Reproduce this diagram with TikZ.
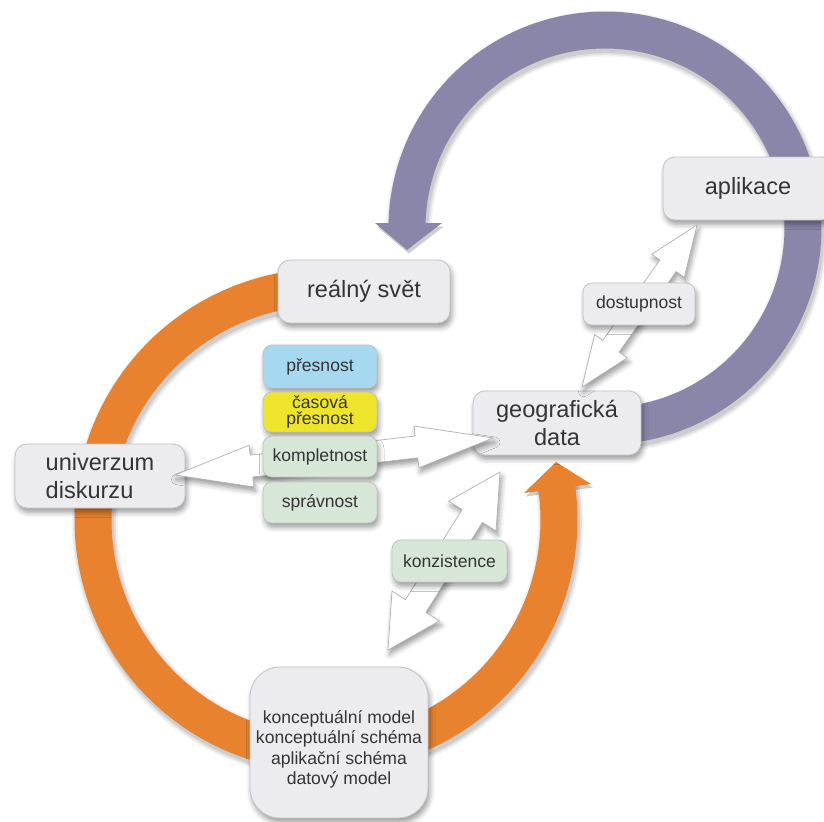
\documentclass[tikz,border=0pt]{standalone}
\usepackage{fontspec}
\setmainfont{Liberation Sans}
\usetikzlibrary{calc,shadows.blur}

\definecolor{ringorange}{RGB}{232,130,46}
\definecolor{ringpurple}{RGB}{138,134,170}
\definecolor{boxgrey}{RGB}{236,236,239}
\definecolor{boxedge}{RGB}{196,196,202}
\definecolor{qblue}{RGB}{166,216,240}
\definecolor{qyellow}{RGB}{238,228,44}
\definecolor{qgreen}{RGB}{214,230,215}
\definecolor{txt}{RGB}{52,52,52}

\tikzset{
  softshadow/.style={blur shadow={shadow xshift=1pt, shadow yshift=-2.5pt,
      shadow blur radius=3pt, shadow opacity=40}},
  wd/.style={minimum width=#1*0.02cm},
  ht/.style={minimum height=#1*0.02cm},
  panel/.style={draw=boxedge, line width=0.5pt, fill=boxgrey,
      rounded corners=0.24cm, inner sep=0pt, text=txt, softshadow},
  bigtext/.style={font=\fontsize{13.4}{15.5}\selectfont},
  smalltext/.style={font=\fontsize{10}{10}\selectfont},
  tag/.style={panel, rounded corners=0.18cm, smalltext},
  ring/.style={line width=0.74cm},
  ringshadow/.style={black, opacity=#1},
  blockarrow/.style={fill=white, draw=black!30, line width=0.4pt, softshadow},
}

% double-headed block arrow between two named points:
% #1 from, #2 to, #3 head length, #4 head half width, #5 shaft half width (px)
\newcommand\dblarrow[5]{%
  \coordinate (ba1) at ($(#1)!#3*0.02cm!(#2)$);
  \coordinate (ba2) at ($(#2)!#3*0.02cm!(#1)$);
  \path[blockarrow] (#1)
    -- ($(ba1)!#4*0.02cm!90:(#2)$) -- ($(ba1)!#5*0.02cm!90:(#2)$)
    -- ($(ba2)!#5*0.02cm!-90:(#1)$) -- ($(ba2)!#4*0.02cm!-90:(#1)$)
    -- (#2)
    -- ($(ba2)!#4*0.02cm!90:(#1)$) -- ($(ba2)!#5*0.02cm!90:(#1)$)
    -- ($(ba1)!#5*0.02cm!-90:(#2)$) -- ($(ba1)!#4*0.02cm!-90:(#2)$)
    -- cycle;
}

\begin{document}
\begin{tikzpicture}[x=0.02cm, y=-0.02cm]
\useasboundingbox (0,0) rectangle (824,821);

% ---- purple cycle: data -> application -> real world
\foreach \w/\o in {5/0.05, 3/0.07, 1/0.09} {
  \draw[ringshadow=\o, line width=0.74cm+\w pt, shift={(1pt,-2pt)}]
    plot[domain=-100:179, samples=140, variable=\t]
      ({605+198*cos(\t)}, {228-198*sin(\t)});
  \fill[ringshadow=\o, shift={(1pt,-2pt)}] (375,223) -- (407,250) -- (442,223) -- cycle;
}
\draw[ringpurple, ring] plot[domain=-100:179, samples=140, variable=\t]
  ({605+198*cos(\t)}, {228-198*sin(\t)});
\fill[ringpurple] (375,223) -- (407,250) -- (442,223) -- cycle;

% ---- orange cycle: real world -> universe -> model -> data
\foreach \w/\o in {5/0.05, 3/0.07, 1/0.09} {
  \draw[ringshadow=\o, line width=0.74cm+\w pt, shift={(1pt,-2pt)}]
    plot[domain=98:369, samples=160, variable=\t]
      ({326+233*cos(\t)}, {520-233*sin(\t)});
  \fill[ringshadow=\o, shift={(1pt,-2pt)}] (524,493) -- (556,462) -- (591,484) -- cycle;
}
\draw[ringorange, ring] plot[domain=98:369, samples=160, variable=\t]
  ({326+233*cos(\t)}, {520-233*sin(\t)});
\fill[ringorange] (524,493) -- (556,462) -- (591,484) -- cycle;

% ---- main stations
\node[panel, wd=172, ht=63, bigtext] (world) at (364,291.5) {reálný svět};
\node[panel, wd=170, ht=63, bigtext] (app) at (748,188.5) {aplikace};
\node[panel, wd=168, ht=64, bigtext, align=center] (geo) at (557,423) {geografická\\data};
\node[panel, wd=170, ht=64, bigtext, align=left] (univ) at (100,476) {univerzum\\diskurzu};
\node[panel, wd=178, ht=151, rounded corners=0.6cm] (model) at (339,742.5) {};
\node[text=txt, align=center, font=\fontsize{10}{11.7}\selectfont] (modeltext)
  at ($(model.center)+(0,7)$)
  {konceptuální model\\konceptuální schéma\\aplikační schéma\\datový model};

% ---- white double arrows
\coordinate (a1l) at (175,475);
\coordinate (a1r) at (493,438);
\dblarrow{a1l}{a1r}{77}{21}{11}
\coordinate (a2l) at (582,387);
\coordinate (a2u) at (697,225);
\dblarrow{a2l}{a2u}{50}{20}{10}
\coordinate (a3u) at (500,472);
\coordinate (a3l) at (388,650);
\dblarrow{a3u}{a3l}{52}{28}{12}

% ---- quality elements
\node[tag, wd=114, ht=43, fill=qblue] (acc) at (320,366.5) {přesnost};
\node[tag, wd=114, ht=40, fill=qyellow, align=center,
      font=\fontsize{10}{9.5}\selectfont] (temp) at (320,412) {časová\\přesnost};
\node[tag, wd=114, ht=41, fill=qgreen] (compl) at (320,456.5) {kompletnost};
\node[tag, wd=114, ht=41, fill=qgreen] (corr) at (320,502.5) {správnost};
\node[tag, wd=112, ht=42] (avail) at (639,304) {dostupnost};
\node[tag, wd=115, ht=42, fill=qgreen] (cons) at (449.5,561) {konzistence};
\end{tikzpicture}
\end{document}
